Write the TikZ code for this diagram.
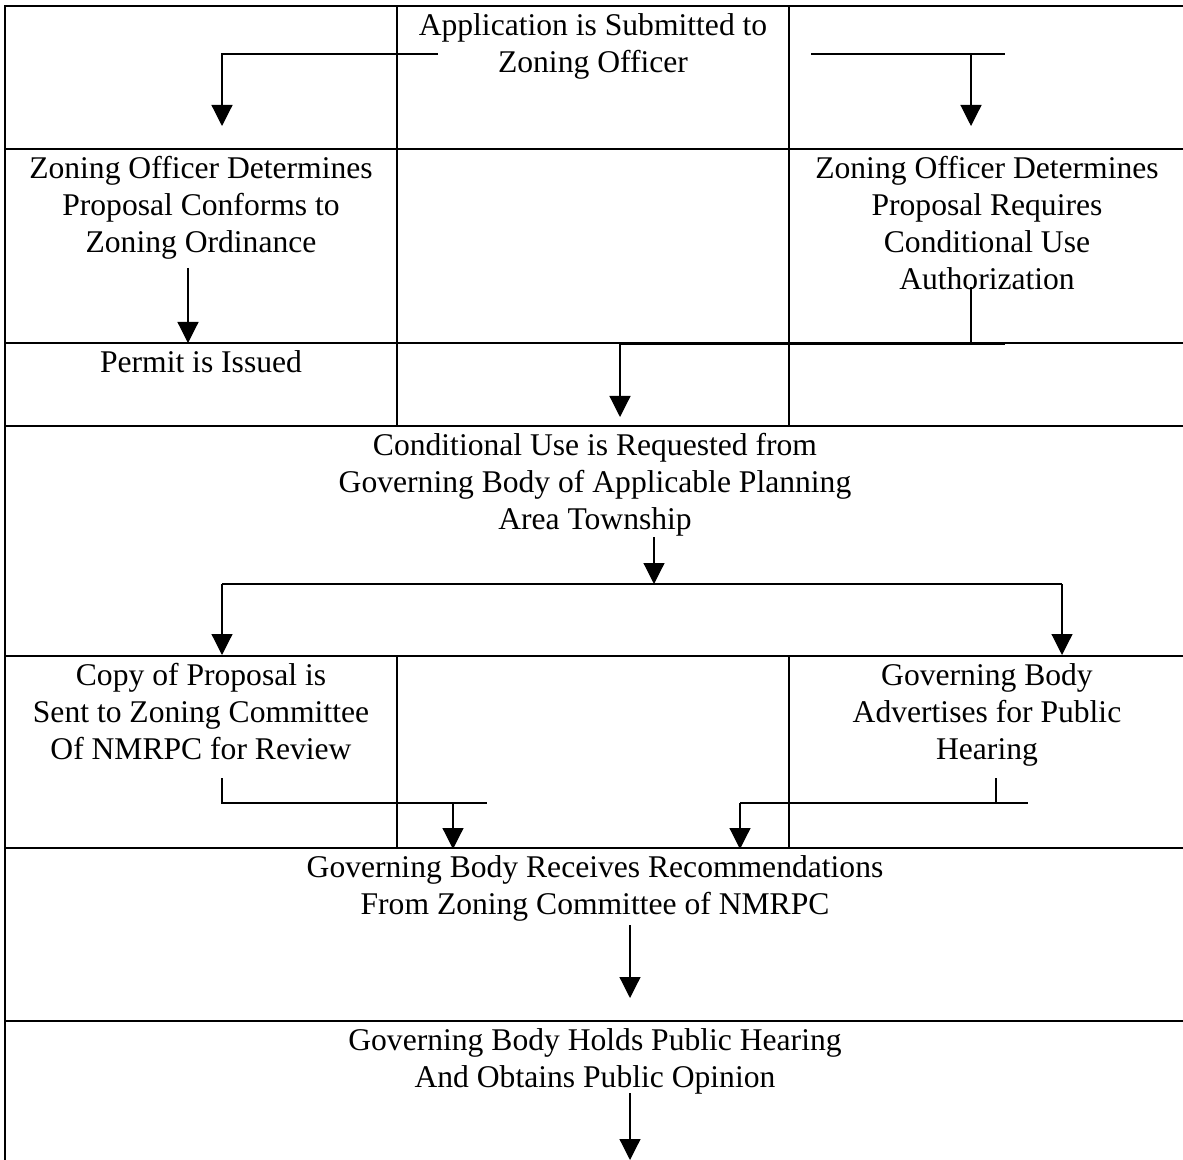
\documentclass[tikz,border=0pt]{standalone}
\usepackage{fontspec}
\setmainfont{Liberation Serif}
\usetikzlibrary{arrows.meta}

\begin{document}
\begin{tikzpicture}[x=0.5pt, y=-0.5pt, every node/.style={font=\fontsize{15.8}{18.5}\selectfont}]
        % Define styles for the cells, the table rules and the arrows
        \tikzstyle{cell} = [anchor=north, align=center, inner xsep=0pt, inner ysep=3.6pt]
        \tikzstyle{rule} = [line width=1pt]
        \tikzstyle{wire} = [line width=0.6pt]
        \tikzstyle{arrow} = [wire, -{Triangle[length=10.5pt, width=10.5pt]}]

        \useasboundingbox (0,0) rectangle (1183,1160);
        \clip (0,0) rectangle (1183,1160);

        % Table rules
        \draw [rule] (5,6) rectangle (1186,1175);
        \foreach \y in {149,343,426,656,848,1021}
            \draw [rule] (5,\y) -- (1186,\y);
        \foreach \x in {397,789} {
            \draw [rule] (\x,6) -- (\x,426);
            \draw [rule] (\x,656) -- (\x,848);
        }

        % Cell texts
        \node (submitted) [cell] at (593,6) {Application is Submitted to\\Zoning Officer};
        \node (conforms) [cell] at (201,149) {Zoning Officer Determines\\Proposal Conforms to\\Zoning Ordinance};
        \node (requires) [cell] at (987,149) {Zoning Officer Determines\\Proposal Requires\\Conditional Use\\Authorization};
        \node (permit) [cell] at (201,343) {Permit is Issued};
        \node (requested) [cell] at (595,426) {Conditional Use is Requested from\\Governing Body of Applicable Planning\\Area Township};
        \node (copysent) [cell] at (201,656) {Copy of Proposal is\\Sent to Zoning Committee\\Of NMRPC for Review};
        \node (advertises) [cell] at (987,656) {Governing Body\\Advertises for Public\\Hearing};
        \node (receives) [cell] at (595,848) {Governing Body Receives Recommendations\\From Zoning Committee of NMRPC};
        \node (holds) [cell] at (595,1021) {Governing Body Holds Public Hearing\\And Obtains Public Opinion};

        % Arrow points
        \coordinate (subleft) at (438,54);
        \coordinate (subbend) at (222,54);
        \coordinate (subtipl) at (222,126);
        \coordinate (subright) at (811,54);
        \coordinate (subend) at (1005,54);
        \coordinate (subdrop) at (971,54);
        \coordinate (subtipr) at (971,126);
        \coordinate (conftop) at (188,268);
        \coordinate (conftip) at (188,343);
        \coordinate (reqtop) at (971,287);
        \coordinate (reqjoin) at (971,344);
        \coordinate (reqleft) at (620,344);
        \coordinate (reqright) at (1005,344);
        \coordinate (reqtip) at (620,417);
        \coordinate (cutop) at (654,537);
        \coordinate (cujoin) at (654,584);
        \coordinate (culeft) at (222,584);
        \coordinate (curight) at (1062,584);
        \coordinate (cutipl) at (222,655);
        \coordinate (cutipr) at (1062,655);
        \coordinate (copytop) at (222,778);
        \coordinate (copybend) at (222,803);
        \coordinate (copyend) at (487,803);
        \coordinate (copydrop) at (453,803);
        \coordinate (copytip) at (453,849);
        \coordinate (advtop) at (996,778);
        \coordinate (advjoin) at (996,803);
        \coordinate (advleft) at (740,803);
        \coordinate (advright) at (1028,803);
        \coordinate (advtip) at (740,849);
        \coordinate (rectop) at (630,925);
        \coordinate (rectip) at (630,998);
        \coordinate (holdtop) at (630,1093);
        \coordinate (holdtip) at (630,1160);

        % Arrows
        \draw [arrow] (subleft) -- (subbend) -- (subtipl);
        \draw [wire] (subright) -- (subend);
        \draw [arrow] (subdrop) -- (subtipr);
        \draw [arrow] (conftop) -- (conftip);
        \draw [wire] (reqtop) -- (reqjoin);
        \draw [wire] (reqleft) -- (reqright);
        \draw [arrow] (reqleft) -- (reqtip);
        \draw [arrow] (cutop) -- (cujoin);
        \draw [wire] (culeft) -- (curight);
        \draw [arrow] (culeft) -- (cutipl);
        \draw [arrow] (curight) -- (cutipr);
        \draw [wire] (copytop) -- (copybend) -- (copyend);
        \draw [arrow] (copydrop) -- (copytip);
        \draw [wire] (advtop) -- (advjoin);
        \draw [wire] (advleft) -- (advright);
        \draw [arrow] (advleft) -- (advtip);
        \draw [arrow] (rectop) -- (rectip);
        \draw [arrow] (holdtop) -- (holdtip);
    \end{tikzpicture}
\end{document}
